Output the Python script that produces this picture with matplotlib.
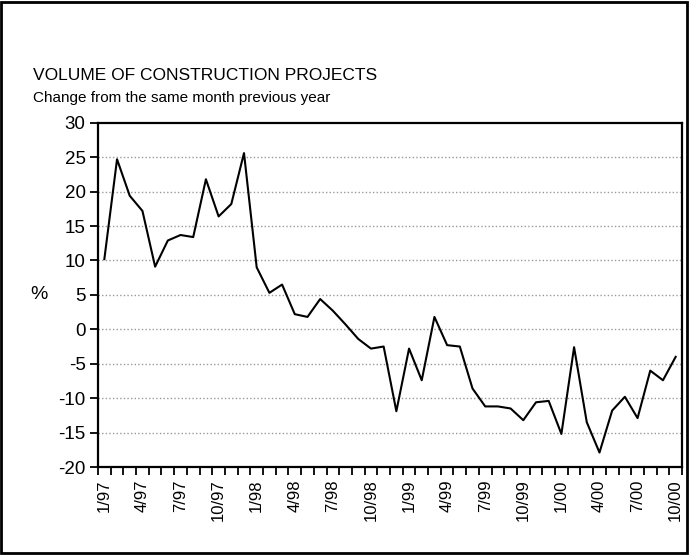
import numpy as np
import matplotlib.pyplot as plt
from matplotlib.ticker import FixedLocator, NullFormatter

plt.rcParams['font.family'] = ['Liberation Sans', 'DejaVu Sans']

# monthly data, 1/97 .. 10/00
months = [f"{m}/{y:02d}" for y in (97, 98, 99, 0) for m in range(1, 13)][:46]
change = [10.2, 24.7, 19.4, 17.2, 9.1, 12.9, 13.7, 13.4, 21.8, 16.4, 18.2, 25.6,
          9.0, 5.3, 6.5, 2.2, 1.8, 4.4, 2.7, 0.7, -1.4, -2.8, -2.5, -11.9,
          -2.8, -7.4, 1.8, -2.3, -2.5, -8.6, -11.2, -11.2, -11.5, -13.2, -10.6, -10.4,
          -15.2, -2.6, -13.5, -17.9, -11.8, -9.8, -12.9, -6.0, -7.4, -4.0]
yticks = [30, 25, 20, 15, 10, 5, 0, -5, -10, -15, -20]
label_every = 3

fig = plt.figure(figsize=(6.9, 5.55), dpi=100)
ax = fig.add_axes([98 / 690, 1 - 467 / 555, 584 / 690, (467 - 122.8) / 555])

x = np.arange(len(change))
ax.plot(x, change, color='black', linewidth=1.5)

ax.set_xlim(-0.5, len(change) - 0.5)
ax.set_ylim(-20, 30)
ax.set_yticks(yticks)
ax.set_yticklabels([str(v) for v in yticks], fontsize=13.5)
for v in yticks[1:-1]:
    ax.axhline(v, color='#999999', linestyle=(0, (1, 1.6)), linewidth=1.0, zorder=0)

lab_idx = x[::label_every]
ax.set_xticks(lab_idx)
ax.set_xticklabels([months[i] for i in lab_idx], rotation=90, fontsize=12)
ax.tick_params(axis='x', which='major', length=0, pad=9)
ax.xaxis.set_minor_locator(FixedLocator(np.arange(-0.5, len(change), 1)))
ax.xaxis.set_minor_formatter(NullFormatter())
ax.tick_params(axis='x', which='minor', length=6, width=1.3, direction='out')
ax.tick_params(axis='y', length=6, width=1.3, direction='out', pad=3)

for s in ax.spines.values():
    s.set_linewidth(1.6)

ax.set_ylabel('%', rotation=0, fontsize=14, labelpad=14, va='center')

fig.text(33 / 690, 1 - 76 / 555, 'VOLUME OF CONSTRUCTION PROJECTS', fontsize=12.5,
         va='center', ha='left')
fig.text(33 / 690, 1 - 98 / 555, 'Change from the same month previous year', fontsize=11,
         va='center', ha='left')

# outer frame
fig.patches.append(plt.Rectangle((0.002, 0.003), 0.993, 0.994, transform=fig.transFigure,
                                 fill=False, edgecolor='black', linewidth=2))

fig.savefig('out.png', dpi=100)
